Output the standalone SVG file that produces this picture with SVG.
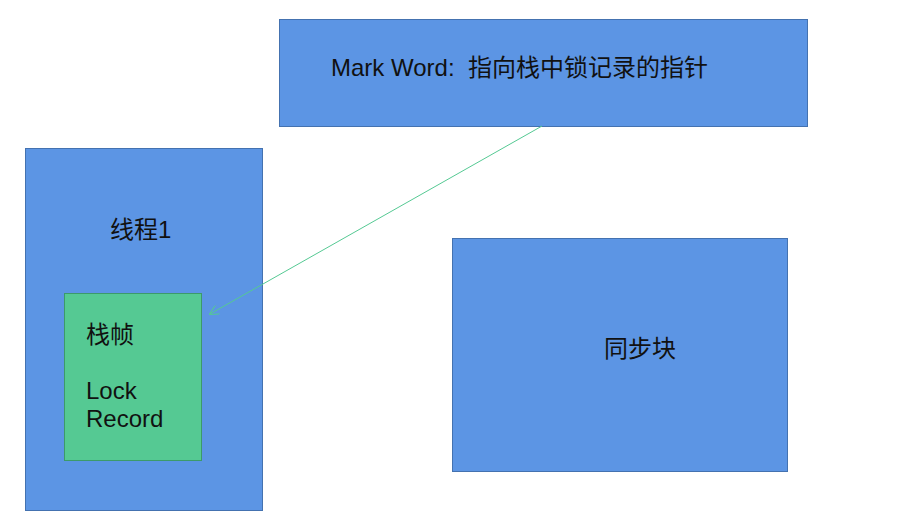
<svg xmlns="http://www.w3.org/2000/svg" width="914" height="519" viewBox="0 0 914 519">
<style>
.blue{fill:#5C95E4;stroke:#4472B0;stroke-width:1}
.green{fill:#55C993;stroke:#3C9A6A;stroke-width:1}
.t{font-family:"Liberation Sans","Noto Sans CJK SC",sans-serif;font-size:24px;fill:#111;white-space:pre}
.conn{stroke:#55C993;stroke-width:1;fill:none}
</style>
<defs>
<marker id="arr" viewBox="0 0 10 10" refX="9" refY="5" markerWidth="10" markerHeight="10" markerUnits="userSpaceOnUse" orient="auto">
<path d="M0,0 L10,5 L0,10" fill="none" stroke="#55C993" stroke-width="1"/>
</marker>
</defs>
<rect width="914" height="519" fill="#fff"/>
<g id="markword">
<rect class="blue" x="279.5" y="19.5" width="528" height="107"/>
<text class="t" x="331" y="76" xml:space="preserve">Mark Word:  指向栈中锁记录的指针</text>
</g>
<g id="thread1">
<rect class="blue" x="25.5" y="148.5" width="237" height="362"/>
<text class="t" x="110" y="238">线程1</text>
</g>
<g id="stackframe">
<rect class="green" x="64.5" y="293.5" width="137" height="167"/>
<text class="t" x="86" y="343">栈帧</text>
<text class="t" x="86" y="399">Lock</text>
<text class="t" x="86" y="427">Record</text>
</g>
<g id="syncblock">
<rect class="blue" x="452.5" y="238.5" width="335" height="233"/>
<text class="t" x="604" y="357">同步块</text>
</g>
<g id="connectors">
<line class="conn" x1="542" y1="126" x2="210" y2="314" marker-end="url(#arr)"/>
</g>
</svg>
